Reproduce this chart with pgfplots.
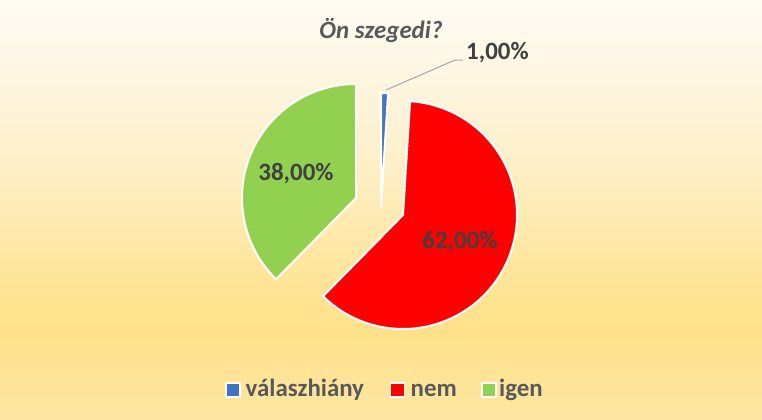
\documentclass[border=0pt]{standalone}
\usepackage{pgfplots}
\pgfplotsset{compat=1.18}
\usepackage{pgfplotstable}
\usepackage{fontspec}
\setmainfont{Carlito}
\definecolor{cBlue}{HTML}{4472C4}
\definecolor{cRed}{HTML}{FF0000}
\definecolor{cGreen}{HTML}{92D050}
\definecolor{tTitle}{HTML}{595959}
\definecolor{tLab}{HTML}{404040}
\definecolor{leader}{HTML}{A6A6A6}
\definecolor{bgA}{HTML}{FFFCF5}
\definecolor{bgB}{HTML}{FEF1D0}
\definecolor{bgC}{HTML}{FFE391}
\definecolor{bgD}{HTML}{FFE18A}
\definecolor{bgE}{HTML}{FEE7A3}
\pgfdeclareverticalshading{bgshade}{100bp}{color(0bp)=(bgE); color(25bp)=(bgE); color(35.7bp)=(bgD); color(39.3bp)=(bgC); color(58.3bp)=(bgB); color(75bp)=(bgA); color(100bp)=(bgA)}

% slice values (percent) and slice centres (pixel coordinates, y downwards)
\pgfplotstableread{
value cx cy
1 381 207
62 403 215
38 356 198
}\slices
\pgfplotstablegetelem{0}{value}\of\slices \let\vA\pgfplotsretval
\pgfplotstablegetelem{1}{value}\of\slices \let\vB\pgfplotsretval
\pgfplotstablegetelem{2}{value}\of\slices \let\vC\pgfplotsretval
\pgfplotstablegetelem{0}{cx}\of\slices \let\cxA\pgfplotsretval
\pgfplotstablegetelem{1}{cx}\of\slices \let\cxB\pgfplotsretval
\pgfplotstablegetelem{2}{cx}\of\slices \let\cxC\pgfplotsretval
\pgfplotstablegetelem{0}{cy}\of\slices \let\cyA\pgfplotsretval
\pgfplotstablegetelem{1}{cy}\of\slices \let\cyB\pgfplotsretval
\pgfplotstablegetelem{2}{cy}\of\slices \let\cyC\pgfplotsretval
\pgfmathsetmacro\tot{\vA+\vB+\vC}
\pgfmathsetmacro\aA{\vA/\tot*360}
\pgfmathsetmacro\aB{\aA+\vB/\tot*360}
\def\R{114}

\begin{document}
\begin{tikzpicture}[
  lbl/.style={font=\fontsize{25}{28}\selectfont\bfseries, text=tLab},
  leg/.style={anchor=base west, inner sep=0pt, font=\fontsize{25}{28}\selectfont\bfseries, text=tTitle},
]
\useasboundingbox (0,0) rectangle (762bp,420bp);
\shade[shading=bgshade] (0,0) rectangle (762bp,420bp);
\begin{axis}[
  at={(0,0)}, anchor=south west,
  scale only axis, width=762bp, height=420bp,
  xmin=0, xmax=762, ymin=0, ymax=420,
  y dir=reverse, hide axis, clip=false,
]
\addplot[fill=cBlue, draw=white, line width=2bp, line join=round, domain=0:\aA, samples=5, variable=\t]
  ({\cxA+\R*sin(\t)},{\cyA-\R*cos(\t)}) -- (axis cs:\cxA,\cyA) -- cycle;
\addplot[fill=cRed, draw=white, line width=2bp, line join=round, domain=\aA:\aB, samples=120, variable=\t]
  ({\cxB+\R*sin(\t)},{\cyB-\R*cos(\t)}) -- (axis cs:\cxB,\cyB) -- cycle;
\addplot[fill=cGreen, draw=white, line width=2bp, line join=round, domain=\aB:360, samples=80, variable=\t]
  ({\cxC+\R*sin(\t)},{\cyC-\R*cos(\t)}) -- (axis cs:\cxC,\cyC) -- cycle;
% legend
\path[fill=cBlue, draw=white, line width=1.2bp] (axis cs:226,383) rectangle (axis cs:240,397);
\node[leg] at (axis cs:245.5,396.7) {válaszhiány};
\path[fill=cRed, draw=white, line width=1.2bp] (axis cs:390.5,383) rectangle (axis cs:404.5,397);
\node[leg] at (axis cs:410.5,396.7) {nem};
\path[fill=cGreen, draw=white, line width=1.2bp] (axis cs:482,383) rectangle (axis cs:496,397);
\node[leg] at (axis cs:499,396.7) {igen};
% labels
\draw[leader, line width=1bp] (axis cs:386,90) -- (axis cs:455,60) -- (axis cs:463,60);
\node[lbl, anchor=west, inner sep=0pt] at (axis cs:466,53) {1,00\%};
\node[lbl] at (axis cs:296,174) {38,00\%};
\node[lbl] at (axis cs:460,242) {62,00\%};
\node[font=\fontsize{25}{28}\selectfont\bfseries\itshape, text=tTitle] at (axis cs:381,30) {Ön szegedi?};
\end{axis}
\end{tikzpicture}
\end{document}
